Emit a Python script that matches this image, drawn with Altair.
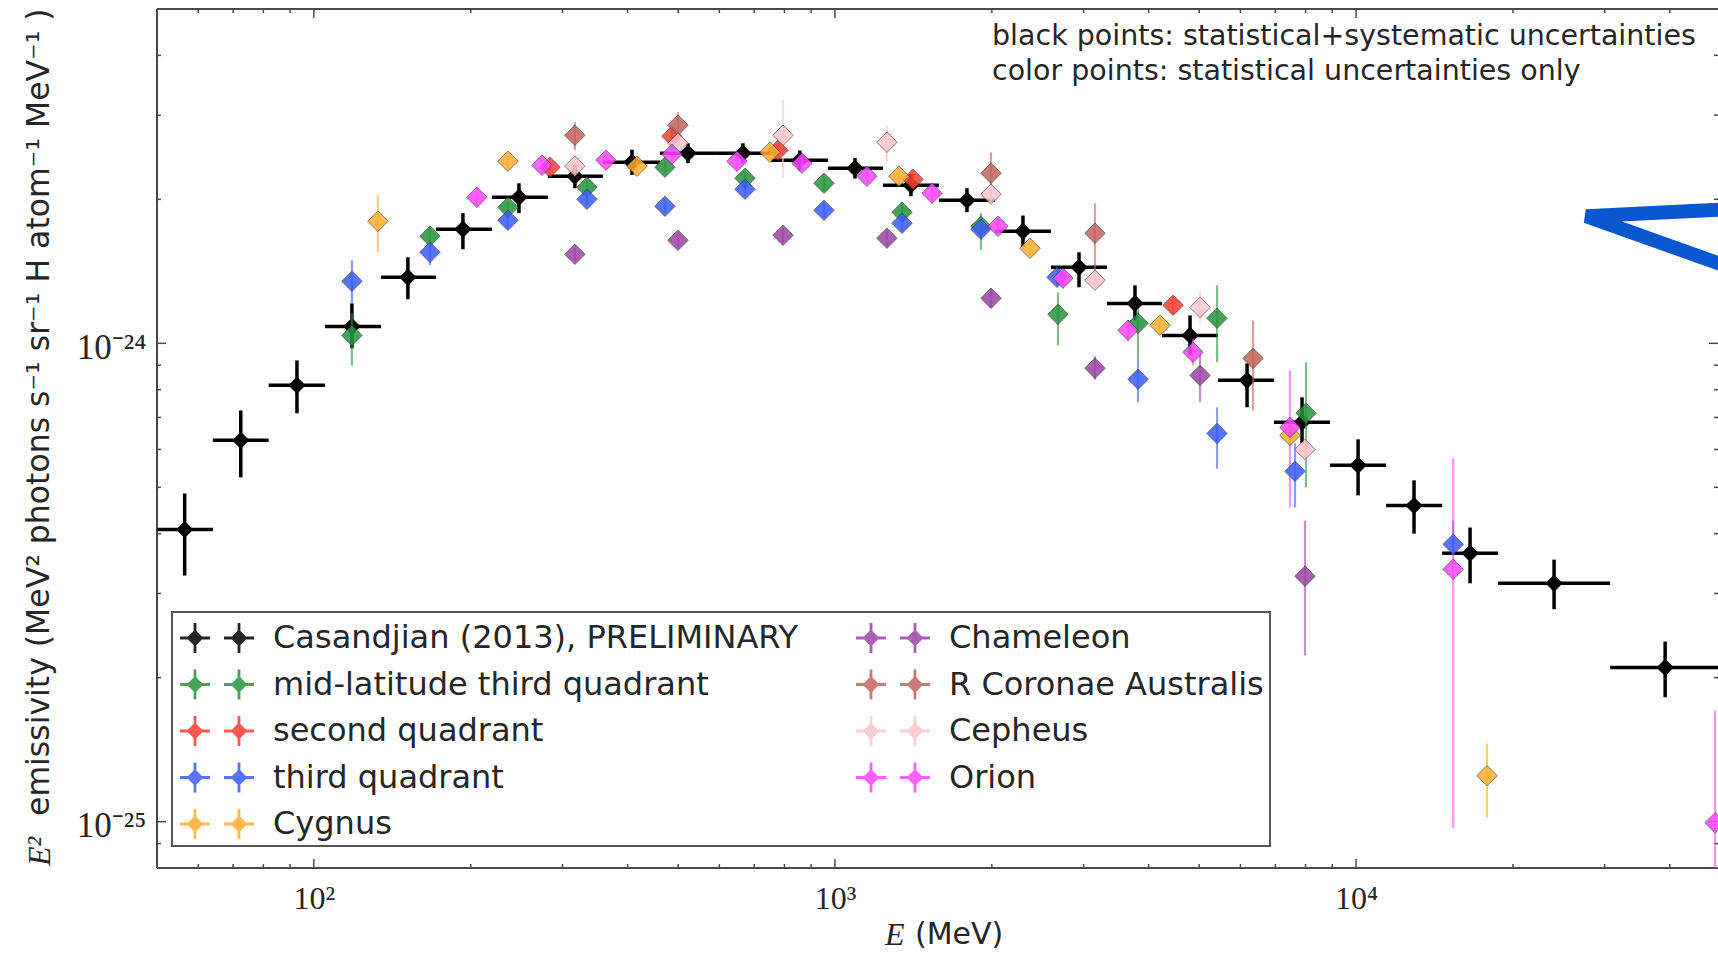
import altair as alt
import pandas as pd

# ---------------------------------------------------------------- data
# Casandjian (2013) bins: centre energy (MeV), bin edges, emissivity (x 1e-24)
CAS_E = [56.5, 72.4, 92.8, 118.3, 151.5, 193.2, 247.5, 316.9, 407.8, 522.3, 665.9, 856.5,
         1092.5, 1399, 1792, 2295, 2940, 3765, 4802, 6178, 7877, 10090, 12920, 16550, 23990, 39190]
CAS_ELO = [44, 64, 81.9, 105, 134.5, 171.5, 219.6, 281.3, 358.6, 461.6, 590.9, 753.9,
           969.6, 1236, 1583, 2028, 2597, 3327, 4242, 5434, 6960, 8915, 11420, 14630, 18730, 30730]
CAS_EHI = [64, 81.9, 105, 134.5, 171.5, 219.6, 281.3, 358.6, 461.6, 590.9, 753.9, 969.6,
           1236, 1583, 2028, 2597, 3327, 4242, 5434, 6960, 8915, 11420, 14630, 18730, 30730, 61000]
CAS_V = [0.408, 0.627, 0.817, 1.085, 1.374, 1.732, 2.020, 2.235, 2.391, 2.497, 2.497, 2.415,
         2.323, 2.141, 1.991, 1.715, 1.442, 1.212, 1.039, 0.837, 0.684, 0.556, 0.458, 0.364, 0.315, 0.210]
CAS_VLO = [0.327, 0.5245, 0.714, 0.976, 1.236, 1.573, 1.871, 2.110, 2.25, 2.38, 2.38, 2.30,
           2.21, 2.03, 1.88, 1.59, 1.310, 1.117, 0.944, 0.735, 0.618, 0.481, 0.400, 0.315, 0.278, 0.182]
CAS_VHI = [0.4855, 0.724, 0.921, 1.212, 1.513, 1.871, 2.161, 2.357, 2.54, 2.62, 2.62, 2.53,
           2.44, 2.26, 2.11, 1.85, 1.550, 1.322, 1.144, 0.908, 0.771, 0.630, 0.517, 0.412, 0.353, 0.238]

# colour series: energy (MeV), emissivity and its statistical range (x 1e-24)
MID_E = [118.3, 167.0, 235.7, 334.2, 471.8, 672.0, 952.6, 1345, 1906, 2679, 3816, 5410, 8017]
MID_V = [1.039, 1.675, 1.925, 2.120, 2.334, 2.214, 2.161, 1.879, 1.757, 1.150, 1.101, 1.128, 0.714]
MID_LO = [0.899, 1.61, 1.87, 2.06, 2.27, 2.15, 2.09, 1.80, 1.567, 0.990, 0.92, 0.913, 0.500]
MID_HI = [1.155, 1.76, 1.98, 2.18, 2.40, 2.28, 2.23, 1.97, 1.871, 1.278, 1.18, 1.322, 0.913]

SEC_E = [283.8, 486.6, 777.5, 1412, 4455]
SEC_V = [2.334, 2.711, 2.534, 2.203, 1.201]
SEC_LO = [2.27, 2.63, 2.46, 2.13, 1.15]
SEC_HI = [2.40, 2.79, 2.61, 2.27, 1.25]

THI_E = [118.3, 167.0, 235.7, 334.2, 471.8, 672.0, 952.6, 1345, 1906, 2668, 3816, 5410, 7636, 15360]
THI_V = [1.348, 1.550, 1.808, 2.001, 1.934, 2.100, 1.897, 1.782, 1.732, 1.374, 0.841, 0.648, 0.540, 0.380]
THI_LO = [1.212, 1.456, 1.75, 1.94, 1.87, 2.03, 1.83, 1.72, 1.67, 1.32, 0.753, 0.547, 0.454, 0.360]
THI_HI = [1.491, 1.619, 1.87, 2.06, 2.00, 2.17, 1.96, 1.85, 1.80, 1.43, 0.921, 0.735, 0.618, 0.426]

CYG_E = [132.7, 235.7, 416.9, 750.4, 1327, 2367, 4205, 7469, 17840]
CYG_V = [1.800, 2.403, 2.346, 2.509, 2.235, 1.580, 1.091, 0.642, 0.1248]
CYG_LO = [1.550, 2.34, 2.28, 2.44, 2.17, 1.53, 1.05, 0.61, 0.102]
CYG_HI = [2.040, 2.47, 2.41, 2.58, 2.30, 1.63, 1.13, 0.67, 0.1456]

CHA_E = [316.9, 499.7, 794.9, 1258, 1993, 3155, 5019, 7980]
CHA_V = [1.535, 1.642, 1.683, 1.659, 1.242, 0.887, 0.857, 0.326]
CHA_LO = [1.49, 1.59, 1.63, 1.60, 1.19, 0.84, 0.753, 0.2225]
CHA_HI = [1.58, 1.69, 1.74, 1.72, 1.30, 0.94, 0.953, 0.426]

RCR_E = [316.9, 499.7, 1993, 3155, 6343]
RCR_V = [2.723, 2.858, 2.268, 1.699, 0.930]
RCR_LO = [2.534, 2.660, 2.040, 1.310, 0.724]
RCR_HI = [2.900, 3.043, 2.509, 1.963, 1.117]

CEP_E = [316.9, 499.7, 794.9, 1258, 1993, 3155, 5019, 7980]
CEP_V = [2.346, 2.620, 2.723, 2.633, 2.050, 1.355, 1.189, 0.600]
CEP_LO = [2.28, 2.55, 2.214, 2.380, 1.98, 1.31, 1.10, 0.57]
CEP_HI = [2.41, 2.70, 3.224, 2.858, 2.12, 1.40, 1.29, 0.63]

ORI_E = [205.5, 274.0, 363.6, 486.6, 648.5, 864.4, 1152, 1536, 2055, 2739, 3651, 4866, 7469, 15360, 48880]
ORI_V = [2.020, 2.357, 2.415, 2.485, 2.403, 2.380, 2.235, 2.060, 1.757, 1.368, 1.065, 0.958, 0.667, 0.337, 0.0995]
ORI_LO = [1.96, 2.29, 2.35, 2.42, 2.34, 2.31, 2.15, 1.98, 1.70, 1.31, 1.01, 0.90, 0.454, 0.097, 0.05]
ORI_HI = [2.08, 2.42, 2.48, 2.55, 2.47, 2.45, 2.32, 2.14, 1.82, 1.43, 1.12, 1.02, 0.878, 0.575, 0.1707]

SERIES = ["Casandjian (2013), PRELIMINARY", "mid-latitude third quadrant", "second quadrant",
          "third quadrant", "Cygnus", "Chameleon", "R Coronae Australis", "Cepheus", "Orion"]
COLORS = ["#000000", "#23943a", "#ff3b2f", "#3a5cff", "#ffad2e", "#9c42a5", "#c4625c", "#ffc4cc", "#ff45ff"]

NOTE_LINES = ["black points: statistical+systematic uncertainties",
              "color points: statistical uncertainties only"]

X_TICKS_MAJOR = [100, 1000, 10000]
X_TICKS_MINOR = [60, 70, 80, 90, 200, 300, 400, 500, 600, 700, 800, 900,
                 2000, 3000, 4000, 5000, 6000, 7000, 8000, 9000, 20000, 30000, 40000]
Y_TICKS_MAJOR = [0.1, 1.0]
Y_TICKS_MINOR = [0.09, 0.2, 0.3, 0.4, 0.5, 0.6, 0.7, 0.8, 0.9, 2.0, 3.0, 4.0]

# the overlaid blue arrow-head (energy, emissivity x1e-24)
ARROW_E = [52240, 27640, 52240]
ARROW_V = [1.907, 1.844, 1.441]

# ---------------------------------------------------------------- frame
W, H = 1561, 859
FRAME = "#4a4a4a"
TXT = "#262626"

xs = alt.Scale(type="log", domain=[50, 49500], nice=False)
ys = alt.Scale(type="log", domain=[0.08, 5], nice=False)
cs = alt.Scale(domain=SERIES, range=COLORS)

cas = pd.DataFrame({"e": CAS_E, "elo": CAS_ELO, "ehi": CAS_EHI,
                    "v": CAS_V, "vlo": CAS_VLO, "vhi": CAS_VHI})

groups = [(SERIES[1], MID_E, MID_V, MID_LO, MID_HI), (SERIES[2], SEC_E, SEC_V, SEC_LO, SEC_HI),
          (SERIES[3], THI_E, THI_V, THI_LO, THI_HI), (SERIES[4], CYG_E, CYG_V, CYG_LO, CYG_HI),
          (SERIES[5], CHA_E, CHA_V, CHA_LO, CHA_HI), (SERIES[6], RCR_E, RCR_V, RCR_LO, RCR_HI),
          (SERIES[7], CEP_E, CEP_V, CEP_LO, CEP_HI), (SERIES[8], ORI_E, ORI_V, ORI_LO, ORI_HI)]
rows = []
for name, es, vs, lo, hi in groups:
    for a, b, c, d in zip(es, vs, lo, hi):
        rows.append({"series": name, "e": a, "v": b, "lo": c, "hi": d})
col = pd.DataFrame(rows)


def pair_path(arm=0.75, t=0.07, d=0.42, sep=1.1):
    out = ""
    for cx in (-sep, sep):
        out += (f"M{cx-arm:.3f},{-t}L{cx+arm:.3f},{-t}L{cx+arm:.3f},{t}L{cx-arm:.3f},{t}Z"
                f"M{cx-t:.3f},{-arm}L{cx+t:.3f},{-arm}L{cx+t:.3f},{arm}L{cx-t:.3f},{arm}Z"
                f"M{cx-d:.3f},0L{cx:.3f},{-d}L{cx+d:.3f},0L{cx:.3f},{d}Z")
    return out


# the same axis objects are used by every layer so that they merge cleanly
XA = alt.Axis(values=X_TICKS_MAJOR, title=None, ticks=False, domain=False, grid=False,
              labelExpr="datum.value < 500 ? '10²' : (datum.value < 5000 ? '10³' : '10⁴')",
              labelFont="Liberation Serif", labelFontSize=32, labelColor=TXT,
              labelPadding=15, labelOverlap=False, labelFlush=False)
YA = alt.Axis(values=Y_TICKS_MAJOR, title=None, ticks=False, domain=False, grid=False,
              labelExpr="datum.value > 0.5 ? '10⁻²⁴' : '10⁻²⁵'",
              labelFont="Liberation Serif", labelFontSize=35, labelColor=TXT,
              labelPadding=11, labelOverlap=False, labelFlush=False, labelOffset=4)


def X(f):
    return alt.X(f, scale=xs, axis=XA)


def Y(f):
    return alt.Y(f, scale=ys, axis=YA)


one = pd.DataFrame({"k": [0]})

frame = [
    alt.Chart(one).mark_rule(color=FRAME, strokeWidth=2).encode(x=alt.value(0), x2=alt.value(W), y=alt.value(0)),
    alt.Chart(one).mark_rule(color=FRAME, strokeWidth=2).encode(x=alt.value(0), x2=alt.value(W), y=alt.value(H)),
    alt.Chart(one).mark_rule(color=FRAME, strokeWidth=2).encode(x=alt.value(0), y=alt.value(0), y2=alt.value(H)),
]


def ticks(vals, channel, side, length):
    base = alt.Chart(pd.DataFrame({"t": vals})).mark_rule(color=FRAME, strokeWidth=1.5)
    if channel == "x":
        y0, y1 = (0, length) if side == "top" else (H, H - length)
        return base.encode(x=X("t:Q"), y=alt.value(y0), y2=alt.value(y1))
    x0, x1 = (0, length) if side == "left" else (W, W - length)
    return base.encode(y=Y("t:Q"), x=alt.value(x0), x2=alt.value(x1))


tick_layers = [ticks(X_TICKS_MAJOR, "x", "bottom", 9), ticks(X_TICKS_MINOR, "x", "bottom", 4),
               ticks(X_TICKS_MAJOR, "x", "top", 9), ticks(X_TICKS_MINOR, "x", "top", 4),
               ticks(Y_TICKS_MAJOR, "y", "left", 9), ticks(Y_TICKS_MINOR, "y", "left", 4),
               ticks(Y_TICKS_MAJOR, "y", "right", 9), ticks(Y_TICKS_MINOR, "y", "right", 4)]

cas_xerr = alt.Chart(cas).mark_rule(color="black", strokeWidth=3.5, clip=True).encode(
    x=X("elo:Q"), x2="ehi:Q", y=Y("v:Q"))
cas_yerr = alt.Chart(cas).mark_rule(color="black", strokeWidth=3.5, clip=True).encode(
    x=X("e:Q"), y=Y("vlo:Q"), y2="vhi:Q")
cas_pts = alt.Chart(cas).mark_point(shape="diamond", filled=True, size=300, color="black",
                                    opacity=1, clip=True).encode(x=X("e:Q"), y=Y("v:Q"))

# statistical error bars, one layer per series (plain colour, no legend involvement)
err_layers = []
for name, *_ in groups:
    err_layers.append(
        alt.Chart(col).transform_filter(alt.datum.series == name).mark_rule(
            strokeWidth=2.2, opacity=0.6, clip=True, color=COLORS[SERIES.index(name)]).encode(
            x=X("e:Q"), y=Y("lo:Q"), y2="hi:Q"))

legend = alt.Legend(orient="none", legendX=15, legendY=603, columns=2, title=None,
                    symbolType=pair_path(), symbolSize=1600, symbolStrokeWidth=0,
                    symbolOffset=19, labelOffset=36, columnPadding=55, rowPadding=10.5, padding=6,
                    labelFont="DejaVu Sans", labelFontSize=32, labelColor=TXT, labelLimit=900,
                    strokeColor="#555555", fillColor="white")
col_pts = alt.Chart(col).mark_point(shape="diamond", filled=True, size=420, opacity=0.85,
                                    stroke="#333333", strokeWidth=0.7, clip=True).encode(
    x=X("e:Q"), y=Y("v:Q"), color=alt.Color("series:N", scale=cs, legend=legend))

arrow = alt.Chart(pd.DataFrame({"e": ARROW_E, "v": ARROW_V, "k": [0, 1, 2]})).mark_line(
    color="#0a58d0", strokeWidth=14, strokeJoin="bevel", strokeCap="butt", clip=True).encode(
    x=X("e:Q"), y=Y("v:Q"), order="k:Q")


def label(text, x, y, font="DejaVu Sans", size=30, style="normal", angle=0):
    return alt.Chart(one).mark_text(text=text, angle=angle, align="left", baseline="middle",
                                    font=font, fontStyle=style, fontSize=size, color=TXT).encode(
        x=alt.value(x), y=alt.value(y))


texts = [
    label(NOTE_LINES[0], 835, 27, size=28.5),
    label(NOTE_LINES[1], 835, 62, size=28.5),
    label("E²", -117, 857, font="Liberation Serif", size=32, style="italic", angle=270),
    label("emissivity  (MeV²   photons  s⁻¹  sr⁻¹  H atom⁻¹  MeV⁻¹ )", -117, 807, size=31.5, angle=270),
    label("E", 728, 926, font="Liberation Serif", size=32, style="italic"),
    label("(MeV)", 758, 926, size=30),
]

chart = alt.layer(
    cas_pts, *frame, *tick_layers, cas_xerr, cas_yerr, *err_layers, col_pts, arrow, *texts
).properties(
    width=W, height=H, autosize=alt.AutoSizeParams(type="none"),
    padding={"left": 157, "top": 9, "right": 0, "bottom": 84}, background="white"
).configure_view(strokeWidth=0).configure_legend(strokeWidth=2)

chart.save("out.html", embed_options={"renderer": "svg", "actions": False})
